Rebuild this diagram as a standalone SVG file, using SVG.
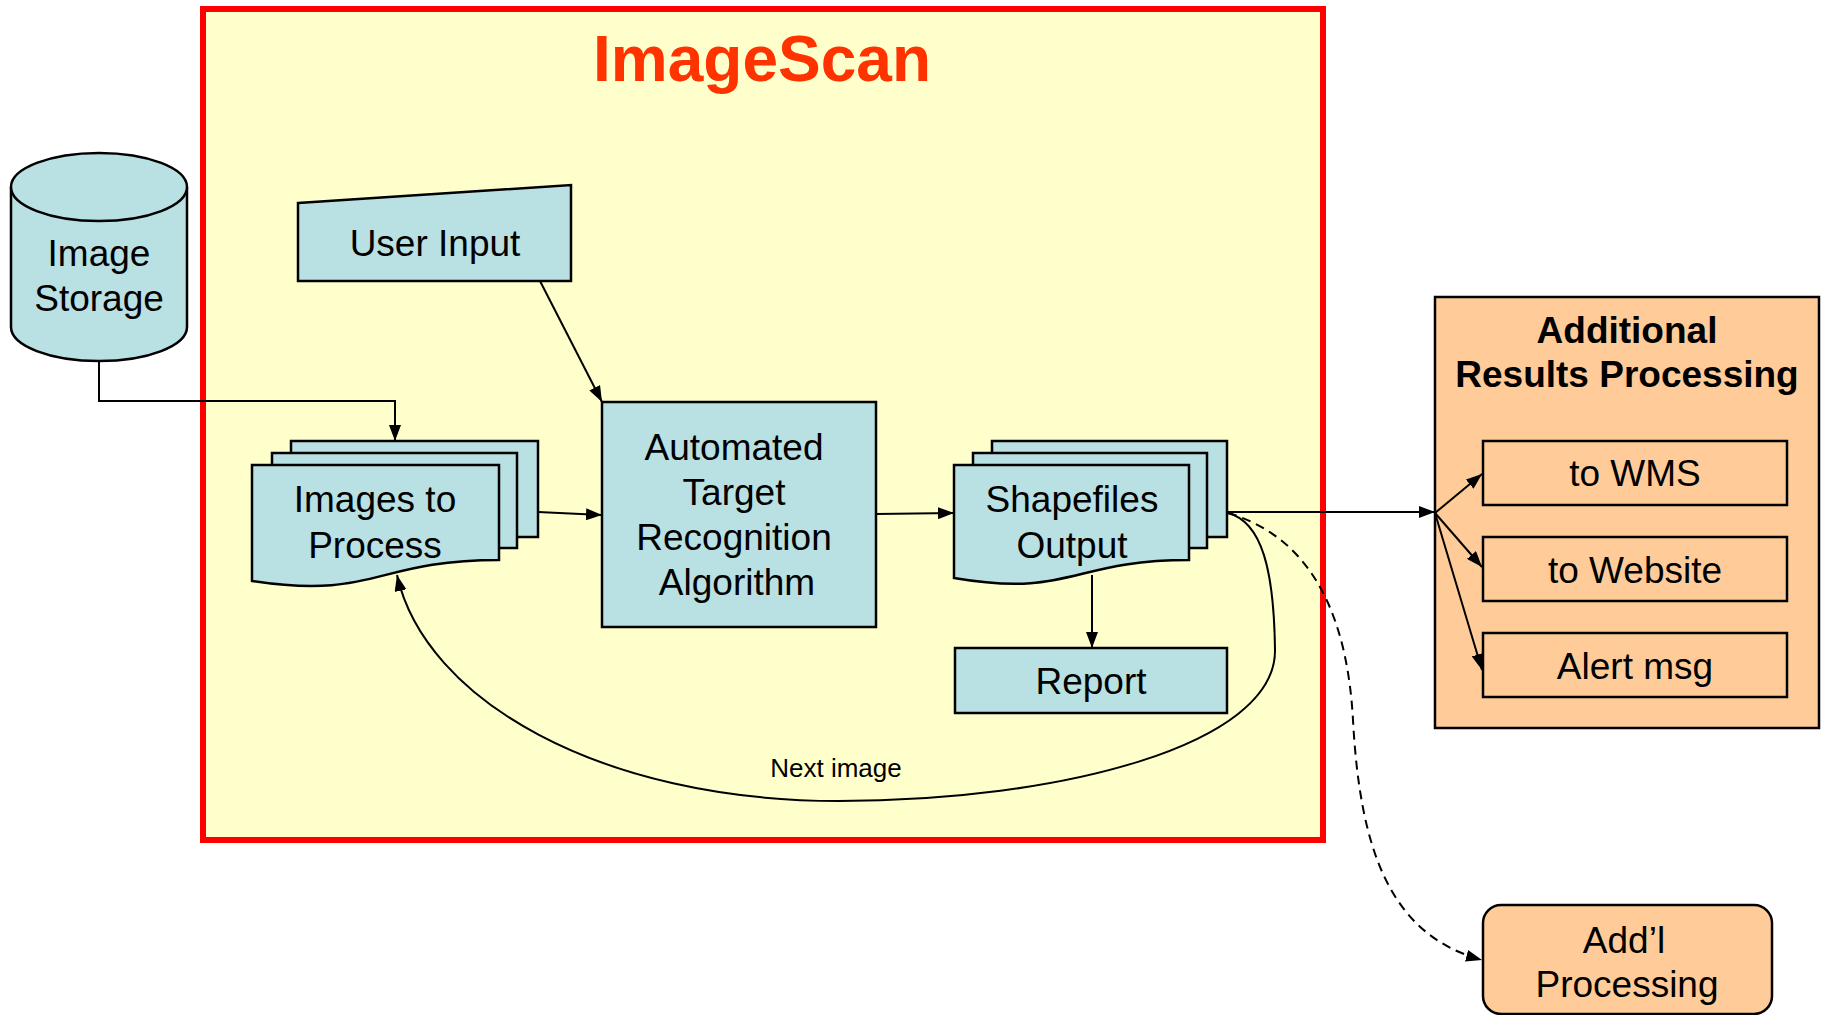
<svg xmlns="http://www.w3.org/2000/svg" width="1826" height="1015" viewBox="0 0 1826 1015">
  <style>
    text { font-family: "Liberation Sans", Arial, sans-serif; fill: #000; }
    .lbl { font-size: 37px; text-anchor: middle; }
    .bold { font-weight: bold; }
    .blue { fill: #B9E0E3; stroke: #000; stroke-width: 2.5; }
    .orange { fill: #FFCC99; stroke: #000; stroke-width: 2.5; }
    .conn { fill: none; stroke: #000; stroke-width: 2; }
  </style>
  <defs>
    <marker id="ah" viewBox="0 0 16 12" refX="16" refY="6" markerWidth="16" markerHeight="12" markerUnits="userSpaceOnUse" orient="auto">
      <path d="M0,0 L16,6 L0,12 Z" fill="#000"/>
    </marker>
  </defs>

  <rect width="1826" height="1015" fill="#FFFFFF"/>

  <!-- ImageScan frame -->
  <g id="imagescan">
    <rect x="203" y="9" width="1120" height="831" fill="#FFFFCC" stroke="#FF0000" stroke-width="6"/>
    <text x="762" y="81" font-size="64" font-weight="bold" text-anchor="middle" style="fill:#FF3300">ImageScan</text>
  </g>

  <!-- Additional results processing container -->
  <g id="additional-results">
    <rect class="orange" x="1435" y="297" width="384" height="431"/>
    <text class="lbl bold" x="1627" y="343">Additional</text>
    <text class="lbl bold" x="1627" y="387">Results Processing</text>
  </g>

  <g id="image-storage">
    <path class="blue" d="M11,187 V327 A88,34 0 0 0 187,327 V187"/>
    <ellipse class="blue" cx="99" cy="187" rx="88" ry="34"/>
    <text class="lbl" x="99" y="266">Image</text>
    <text class="lbl" x="99" y="311">Storage</text>
  </g>

  <g id="user-input">
    <polygon class="blue" points="298,203 571,185 571,281 298,281"/>
    <text class="lbl" x="435" y="256">User Input</text>
  </g>

  <g id="images-to-process">
    <rect class="blue" x="291" y="441" width="247" height="96"/>
    <rect class="blue" x="272" y="453" width="245" height="95"/>
    <path class="blue" d="M252,465 H499 V560 C375,560 375,600 252,581 Z"/>
    <text class="lbl" x="375" y="512">Images to</text>
    <text class="lbl" x="375" y="558">Process</text>
  </g>

  <g id="atr-algorithm">
    <rect class="blue" x="602" y="402" width="274" height="225"/>
    <text class="lbl" x="734" y="460">Automated</text>
    <text class="lbl" x="734" y="505">Target</text>
    <text class="lbl" x="734" y="550">Recognition</text>
    <text class="lbl" x="737" y="595">Algorithm</text>
  </g>

  <g id="shapefiles-output">
    <rect class="blue" x="992" y="441" width="235" height="96"/>
    <rect class="blue" x="973" y="453" width="234" height="95"/>
    <path class="blue" d="M954,465 H1189 V560 C1071,560 1071,598 954,578 Z"/>
    <text class="lbl" x="1072" y="512">Shapefiles</text>
    <text class="lbl" x="1072" y="558">Output</text>
  </g>

  <g id="report">
    <rect class="blue" x="955" y="648" width="272" height="65"/>
    <text class="lbl" x="1091" y="694">Report</text>
  </g>

  <g id="to-wms">
    <rect class="orange" x="1483" y="441" width="304" height="64"/>
    <text class="lbl" x="1635" y="486">to WMS</text>
  </g>

  <g id="to-website">
    <rect class="orange" x="1483" y="537" width="304" height="64"/>
    <text class="lbl" x="1635" y="583">to Website</text>
  </g>

  <g id="alert-msg">
    <rect class="orange" x="1483" y="633" width="304" height="64"/>
    <text class="lbl" x="1635" y="679">Alert msg</text>
  </g>

  <g id="addl-processing">
    <rect class="orange" x="1483" y="905" width="289" height="109" rx="18" ry="18"/>
    <text class="lbl" x="1624" y="953">Add’l</text>
    <text class="lbl" x="1627" y="997">Processing</text>
  </g>

  <!-- connectors -->
  <g id="connectors">
    <path class="conn" d="M99,361 V401 H395 V441" marker-end="url(#ah)"/>
    <path class="conn" d="M540,281 L602,402" marker-end="url(#ah)"/>
    <path class="conn" d="M538,512 L602,515" marker-end="url(#ah)"/>
    <path class="conn" d="M876,514 L954,513" marker-end="url(#ah)"/>
    <path class="conn" d="M1092,575 V648" marker-end="url(#ah)"/>
    <path class="conn" d="M1227,512 H1435" marker-end="url(#ah)"/>
    <path class="conn" d="M1435,513 L1482,474" marker-end="url(#ah)"/>
    <path class="conn" d="M1435,513 L1482,567" marker-end="url(#ah)"/>
    <path class="conn" d="M1435,513 L1482,670" marker-end="url(#ah)"/>
    <path class="conn" d="M1228,513 C1262,522 1274,570 1275,650 C1276,745 1060,801 839,801 C600,801 425,700 397,575" marker-end="url(#ah)"/>
    <path class="conn" stroke-dasharray="9,6" d="M1228,513 C1320,540 1348,630 1353,720 C1360,850 1390,935 1482,960" marker-end="url(#ah)"/>
    <text x="836" y="777" font-size="26" text-anchor="middle">Next image</text>
  </g>
</svg>
